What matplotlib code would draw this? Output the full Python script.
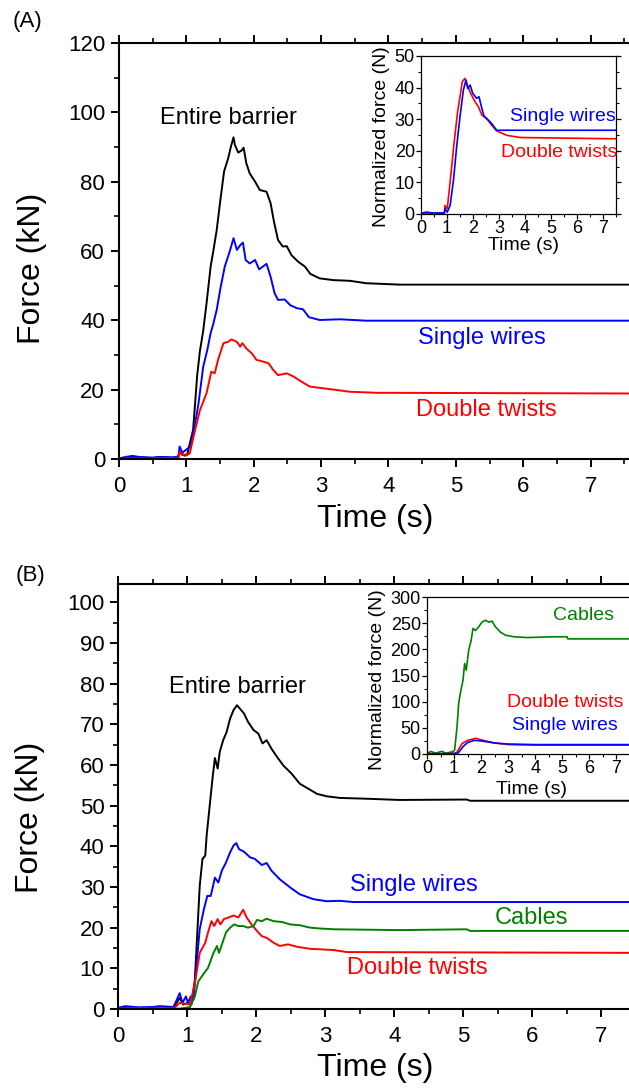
import matplotlib
matplotlib.use("Agg")
import matplotlib.pyplot as plt
from matplotlib.ticker import MultipleLocator

plt.rcParams["font.family"] = ["Liberation Sans", "DejaVu Sans"]

W, H = 629, 1088

# ---- panel A, whole barrier and components (kN) ----
a_black_t = [0, 0.1, 0.2, 0.3, 0.5, 0.6, 0.8, 0.88, 0.9, 0.94, 1.01, 1.1, 1.16, 1.2, 1.25, 1.3,
             1.36, 1.4, 1.45, 1.5, 1.56, 1.62, 1.66, 1.70, 1.72, 1.77, 1.82, 1.85, 1.89, 1.94,
             2.02, 2.09, 2.19, 2.25, 2.3, 2.36, 2.43, 2.49, 2.56, 2.66, 2.76, 2.84, 2.98, 3.18,
             3.43, 3.67, 4.17, 7.6]
a_black_f = [0, 0.3, 0.6, 0.4, 0.3, 0.5, 0.3, 0.5, 2.0, 1.2, 1.2, 8.4, 24, 31, 37, 45,
             55.5, 60, 66, 74, 83, 86.7, 90, 92.8, 90.6, 88.4, 89, 89.8, 85.3, 82.4,
             80, 77.6, 77.1, 73.8, 68.5, 63.2, 61.3, 61.4, 58.8, 56.9, 55.5, 53.4, 52.1, 51.6,
             51.4, 50.7, 50.3, 50.3]

a_blue_t = [0, 0.1, 0.2, 0.3, 0.5, 0.6, 0.8, 0.88, 0.9, 0.94, 1.01, 1.06, 1.13, 1.18, 1.25,
            1.31, 1.36, 1.40, 1.45, 1.51, 1.57, 1.65, 1.70, 1.75, 1.80, 1.84, 1.88, 1.94, 2.02,
            2.08, 2.19, 2.25, 2.31, 2.36, 2.46, 2.54, 2.64, 2.73, 2.82, 2.98, 3.28, 3.67, 7.6]
a_blue_f = [0.2, 0.6, 0.9, 0.6, 0.4, 0.6, 0.5, 0.7, 3.6, 1.8, 2.9, 3.6, 10.3, 16, 26.6,
            31.4, 36.3, 39, 43, 49.7, 55.5, 60.3, 63.7, 60.3, 61.7, 62.4, 57.4, 56.4, 57.4,
            54.7, 56.3, 52.6, 47.8, 45.9, 46, 44.4, 43.5, 43.2, 40.9, 40.1, 40.3, 39.9, 39.9]

a_red_t = [0, 0.2, 0.5, 0.6, 0.88, 0.9, 0.98, 1.05, 1.13, 1.2, 1.3, 1.37, 1.42, 1.47, 1.55,
           1.62, 1.67, 1.75, 1.80, 1.83, 1.89, 1.97, 2.04, 2.14, 2.22, 2.29, 2.36, 2.49, 2.59,
           2.71, 2.83, 3.03, 3.43, 3.82, 7.6]
a_red_f = [0, 0.2, 0.1, 0.3, 0.2, 2.1, 0.9, 1.6, 8.4, 14, 19, 25.2, 24.7, 28.6, 33.4,
           33.8, 34.5, 33.8, 32.4, 33.4, 31.9, 30.5, 28.6, 28.1, 27.6, 25.7, 24.2, 24.7, 23.8,
           22.3, 20.9, 20.4, 19.4, 19.1, 18.9]

# inset A, normalized force (N)
ia_blue_t = [0, 0.2, 0.5, 0.9, 0.92, 1.01, 1.12, 1.25, 1.37, 1.5, 1.63, 1.73, 1.8, 1.89, 1.99,
             2.14, 2.23, 2.34, 2.43, 2.59, 2.72, 2.91, 3.43, 7.5]
ia_blue_f = [0.2, 0.6, 0.3, 0.4, 1.7, 0.6, 2.7, 10.7, 21.2, 30.8, 39.2, 42.4, 39.7, 40.8, 38.2,
             36.6, 37.1, 33.4, 30.8, 29.7, 28.6, 26.5, 26.5, 26.5]
ia_red_t = [0, 0.2, 0.5, 0.9, 0.92, 1.01, 1.14, 1.27, 1.4, 1.5, 1.59, 1.69, 1.78, 1.91, 2.08,
            2.21, 2.34, 2.5, 2.72, 2.91, 3.3, 3.81, 7.5]
ia_red_f = [0, 0.2, 0.1, 0.2, 2.7, 1.7, 11.7, 22.3, 31.8, 37.1, 41.9, 42.9, 40.8, 38.2, 35.5,
            33.9, 31.3, 30.5, 28.1, 26.3, 24.9, 24.2, 23.8]

# ---- panel B ----
b_black_t = [0, 0.1, 0.3, 0.5, 0.6, 0.8, 0.89, 0.94, 1.01, 1.06, 1.11, 1.15, 1.18, 1.22, 1.26,
             1.28, 1.33, 1.37, 1.40, 1.44, 1.47, 1.52, 1.57, 1.62, 1.67, 1.72, 1.76, 1.82,
             1.88, 1.96, 2.03, 2.09, 2.15, 2.22, 2.30, 2.39, 2.51, 2.63, 2.75, 2.88, 3.02,
             3.21, 3.6, 4.08, 5.05, 5.1, 7.6]
b_black_f = [0.2, 0.5, 0.3, 0.3, 0.5, 0.3, 2.7, 1.1, 1.5, 1.1, 7.2, 20.4, 30.3, 36.9, 37.7,
             42.6, 50.9, 57.4, 61.7, 59.1, 63.2, 66.1, 68.1, 71.4, 73.5, 74.7, 73.9, 72.7,
             70.6, 68.6, 67.7, 65.3, 66.1, 64, 62, 59.9, 57.9, 55.4, 54.2, 52.9, 52.3,
             51.9, 51.7, 51.4, 51.5, 51.2, 51.2]

b_blue_t = [0, 0.1, 0.3, 0.5, 0.6, 0.8, 0.89, 0.93, 0.98, 1.01, 1.05, 1.09, 1.14, 1.18, 1.24,
            1.29, 1.34, 1.40, 1.45, 1.50, 1.56, 1.62, 1.67, 1.71, 1.75, 1.82, 1.91, 1.98,
            2.08, 2.15, 2.22, 2.34, 2.49, 2.63, 2.83, 3.02, 3.21, 3.41, 7.6]
b_blue_f = [0.3, 0.7, 0.4, 0.5, 0.7, 0.5, 3.9, 1.5, 3.1, 1.5, 3.1, 2.3, 12.2, 19.6, 24.5,
            27.8, 27.8, 32.3, 31.1, 34, 36, 38.5, 40.2, 40.8, 39.3, 38.7, 37.3, 36.9,
            35.4, 35.9, 34, 31.9, 29.9, 28.2, 27, 26.5, 26.6, 26.3, 26.3]

b_red_t = [0, 0.2, 0.5, 0.6, 0.8, 0.89, 1.04, 1.11, 1.18, 1.26, 1.3, 1.35, 1.39, 1.44, 1.48,
           1.53, 1.6, 1.67, 1.74, 1.81, 1.86, 1.93, 2.01, 2.08, 2.15, 2.25, 2.34, 2.46, 2.59,
           2.78, 3.12, 3.31, 7.6]
b_red_f = [0, 0.2, 0.1, 0.3, 0.1, 1.5, 1.1, 6.4, 13.8, 16.3, 18.8, 21.6, 20.4, 22.1, 20.8,
           22.1, 22.5, 23, 22.5, 24.4, 22.5, 20.8, 19.2, 17.9, 17.5, 16.3, 15.5, 15.9, 15.3,
           14.8, 14.5, 14, 13.8]

b_green_t = [0, 0.3, 0.6, 0.9, 1.04, 1.11, 1.16, 1.23, 1.3, 1.38, 1.43, 1.46, 1.51, 1.56, 1.62,
             1.68, 1.74, 1.81, 1.88, 1.96, 2.01, 2.08, 2.15, 2.25, 2.37, 2.49, 2.63, 2.78,
             2.92, 3.12, 4.08, 5.05, 5.1, 7.6]
b_green_f = [0.1, 0.2, 0.1, 0.1, 0.5, 3.1, 6.8, 8.5, 10.1, 13.8, 15.5, 13.8, 16.3, 18.8, 20,
             20.8, 20.4, 20.4, 20, 20.4, 21.9, 21.6, 22.2, 21.6, 21.4, 20.8, 20.6, 20,
             19.8, 19.6, 19.4, 19.6, 19.2, 19.2]

# inset B, normalized force (N)
ib_green_t = [0, 0.15, 0.3, 0.55, 0.7, 0.96, 1.02, 1.11, 1.17, 1.23, 1.33, 1.39, 1.45, 1.54,
              1.63, 1.70, 1.79, 1.91, 2.03, 2.16, 2.28, 2.4, 2.53, 2.71, 2.9, 3.21, 3.7,
              4.69, 5.18, 5.2, 7.5]
ib_green_f = [1, 5, 1.5, 5, 1.5, 4.5, 7.6, 52, 96.6, 115.7, 141, 173, 160, 198,
              217, 240, 236, 243, 252, 255.6, 252, 254, 243, 233, 227, 224, 222.5,
              224, 224, 220, 220]
ib_red_t = [0, 0.5, 1.0, 1.1, 1.3, 1.5, 1.8, 2.0, 2.5, 3.0, 4.0, 7.5]
ib_red_f = [0.5, 0.5, 1, 3, 20, 26, 30, 27, 21, 18, 17, 17]
ib_blue_t = [0, 0.5, 1.05, 1.15, 1.35, 1.5, 1.75, 2.0, 2.5, 3.0, 4.0, 7.5]
ib_blue_f = [0.5, 0.5, 1, 2, 15, 22, 26, 25, 21, 19, 18, 18]


def _rect(left, top, right, bottom):
    return [left / W, 1 - bottom / H, (right - left) / W, (bottom - top) / H]


def _fxy(x, y):
    return x / W, 1 - y / H


def _style_main(ax, ymajor, yminor):
    for side in ["left", "bottom", "top", "right"]:
        ax.spines[side].set_linewidth(1.5)
    ax.xaxis.set_major_locator(MultipleLocator(1))
    ax.xaxis.set_minor_locator(MultipleLocator(0.5))
    ax.yaxis.set_major_locator(MultipleLocator(ymajor))
    ax.yaxis.set_minor_locator(MultipleLocator(yminor))
    ax.tick_params(which="major", direction="out", length=6, width=1.4, labelsize=16, pad=4)
    ax.tick_params(which="minor", direction="out", length=3.5, width=1.2)
    ax.tick_params(axis="x", which="both", top=True, labeltop=False)
    ax.tick_params(axis="x", which="major", pad=6)


def _style_inset(ax, ymajor, yminor):
    for side in ["left", "bottom", "top", "right"]:
        ax.spines[side].set_linewidth(0.9)
    ax.xaxis.set_major_locator(MultipleLocator(1))
    ax.xaxis.set_minor_locator(MultipleLocator(0.5))
    ax.yaxis.set_major_locator(MultipleLocator(ymajor))
    ax.yaxis.set_minor_locator(MultipleLocator(yminor))
    ax.tick_params(which="major", direction="out", length=3.5, width=0.9, labelsize=13, pad=1)
    ax.tick_params(which="minor", direction="out", length=2, width=0.8)
    ax.tick_params(axis="y", which="both", right=True)


fig = plt.figure(figsize=(W / 100, H / 100), dpi=100)

# panel A
ax_a = fig.add_axes(_rect(119, 43, 631, 459))
ax_a.plot(a_black_t, a_black_f, color="black", lw=1.4)
ax_a.plot(a_blue_t, a_blue_f, color="#0000ff", lw=1.4)
ax_a.plot(a_red_t, a_red_f, color="#ff0000", lw=1.4)
ax_a.set_xlim(0, 7.6)
ax_a.set_ylim(0, 120)
_style_main(ax_a, 20, 10)
ax_a.text(1.62, 98.4, "Entire barrier", fontsize=17, ha="center", va="center")
ax_a.text(5.39, 34.9, "Single wires", fontsize=17, ha="center", va="center", color="#0000ff")
ax_a.text(5.45, 14.1, "Double twists", fontsize=17, ha="center", va="center", color="#ff0000")

ins_a = fig.add_axes(_rect(421, 56, 616, 214))
ins_a.plot(ia_red_t, ia_red_f, color="#ff0000", lw=1.2)
ins_a.plot(ia_blue_t, ia_blue_f, color="#0000ff", lw=1.2)
ins_a.set_xlim(0, 7.5)
ins_a.set_ylim(0, 50)
_style_inset(ins_a, 10, 5)
ins_a.text(5.44, 30.7, "Single wires", fontsize=14, ha="center", va="center", color="#0000ff")
ins_a.text(5.33, 19.6, "Double twists", fontsize=14, ha="center", va="center", color="#ff0000")

# panel B
ax_b = fig.add_axes(_rect(118.3, 584, 642.7, 1009))
ax_b.plot(b_black_t, b_black_f, color="black", lw=1.4)
ax_b.plot(b_blue_t, b_blue_f, color="#0000ff", lw=1.4)
ax_b.plot(b_red_t, b_red_f, color="#ff0000", lw=1.4)
ax_b.plot(b_green_t, b_green_f, color="#008000", lw=1.4)
ax_b.set_xlim(0, 7.6)
ax_b.set_ylim(0, 104.5)
_style_main(ax_b, 10, 5)
ax_b.text(1.73, 79.1, "Entire barrier", fontsize=17, ha="center", va="center")
ax_b.text(4.28, 30.5, "Single wires", fontsize=17, ha="center", va="center", color="#0000ff")
ax_b.text(5.99, 22.4, "Cables", fontsize=17, ha="center", va="center", color="#008000")
ax_b.text(4.34, 10.1, "Double twists", fontsize=17, ha="center", va="center", color="#ff0000")

ins_b = fig.add_axes(_rect(427, 597, 630, 754))
ins_b.plot(ib_green_t, ib_green_f, color="#008000", lw=1.2)
ins_b.plot(ib_red_t, ib_red_f, color="#ff0000", lw=1.2)
ins_b.plot(ib_blue_t, ib_blue_f, color="#0000ff", lw=1.2)
ins_b.set_xlim(0, 7.5)
ins_b.set_ylim(0, 300)
_style_inset(ins_b, 50, 25)
ins_b.text(5.77, 263.7, "Cables", fontsize=14, ha="center", va="center", color="#008000")
ins_b.text(5.09, 97.5, "Double twists", fontsize=14, ha="center", va="center", color="#ff0000")
ins_b.text(5.09, 55.4, "Single wires", fontsize=14, ha="center", va="center", color="#0000ff")

# axis labels and panel tags
fig.text(*_fxy(32, 268), "Force (kN)", fontsize=23, rotation=90, ha="center", va="center")
fig.text(*_fxy(375, 519), "Time (s)", fontsize=23, ha="center", va="center")
fig.text(*_fxy(30, 817), "Force (kN)", fontsize=23, rotation=90, ha="center", va="center")
fig.text(*_fxy(375, 1068), "Time (s)", fontsize=23, ha="center", va="center")
fig.text(*_fxy(382, 137), "Normalized force (N)", fontsize=14, rotation=90, ha="center", va="center")
fig.text(*_fxy(523, 246), "Time (s)", fontsize=14, ha="center", va="center")
fig.text(*_fxy(377, 680), "Normalized force (N)", fontsize=14, rotation=90, ha="center", va="center")
fig.text(*_fxy(532, 790), "Time (s)", fontsize=14, ha="center", va="center")
fig.text(*_fxy(28, 21), "(A)", fontsize=16, ha="center", va="center")
fig.text(*_fxy(30, 575), "(B)", fontsize=16, ha="center", va="center")

fig.savefig("out.png", dpi=100)
